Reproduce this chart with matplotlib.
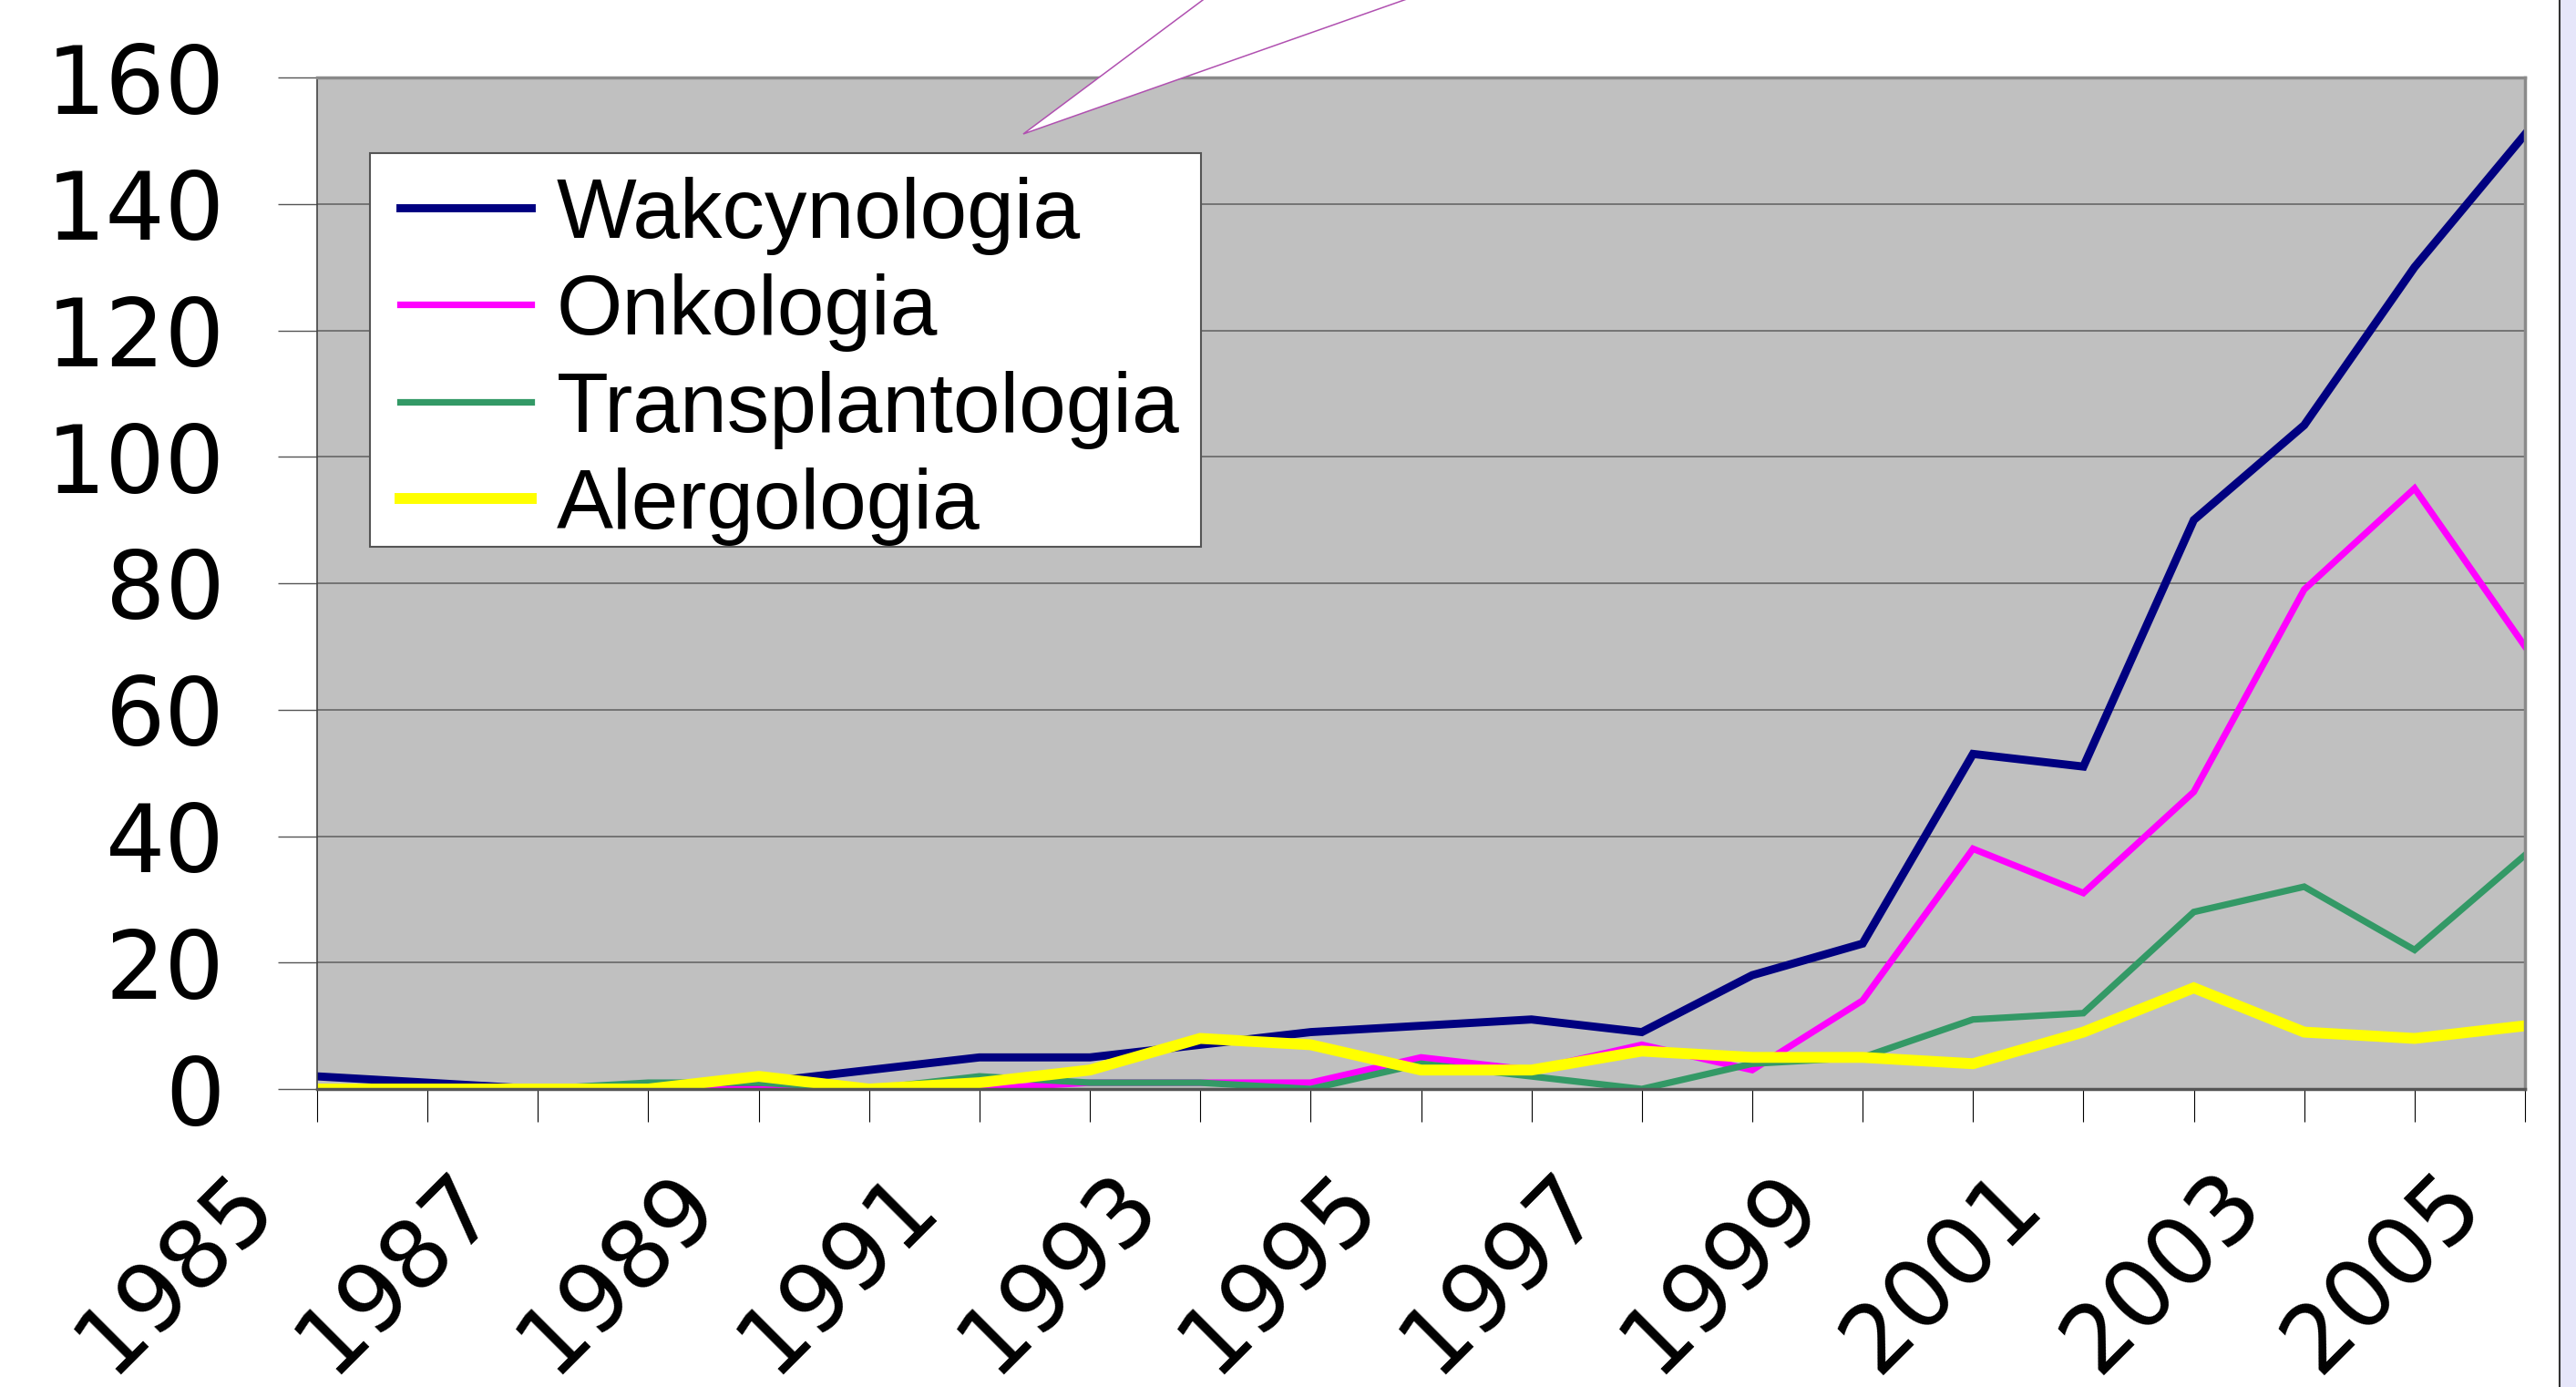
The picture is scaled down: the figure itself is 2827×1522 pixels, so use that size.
import matplotlib
matplotlib.use('Agg')
from matplotlib import pyplot as plt
from matplotlib.patches import Polygon, Rectangle
from matplotlib.transforms import ScaledTranslation

years = list(range(1985, 2006))
wakcynologia = [2, 1, 0, 0, 1, 3, 5, 5, 7, 9, 10, 11, 9, 18, 23, 53, 51, 90, 105, 130, 151]
onkologia = [0, 0, 0, 0, 0, 0, 0, 1, 1, 1, 5, 3, 7, 3, 14, 38, 31, 47, 79, 95, 70]
transplantologia = [0, 0, 0, 1, 1, 0, 2, 1, 1, 0, 4, 2, 0, 4, 5, 11, 12, 28, 32, 22, 37]
alergologia = [0, 0, 0, 0, 2, 0, 1, 3, 8, 7, 3, 3, 6, 5, 5, 4, 9, 16, 9, 8, 10]
names = ['Wakcynologia', 'Onkologia', 'Transplantologia', 'Alergologia']
y_ticks = [0, 20, 40, 60, 80, 100, 120, 140, 160]

W, H = 2827, 1522
fig = plt.figure(figsize=(W / 100, H / 100), dpi=100)
ax = fig.add_axes([348 / W, 1 - 1195 / H, (2771 - 348) / W, (1195 - 85) / H])
ax.set_facecolor('#c0c0c0')

# series, drawn in excel order (later on top)
ax.plot(years, wakcynologia, color='#000080', lw=6.4, label=names[0], solid_joinstyle='miter')
ax.plot(years, onkologia, color='#ff00ff', lw=5.2, label=names[1], solid_joinstyle='miter')
ax.plot(years, transplantologia, color='#339966', lw=5.2, label=names[2], solid_joinstyle='miter')
ax.plot(years, alergologia, color='#ffff00', lw=8.6, label=names[3], solid_joinstyle='miter')

ax.set_xlim(1985, 2005)
ax.set_ylim(0, 160)
ax.set_yticks(y_ticks)
ax.set_xticks(years)
ax.set_xticklabels([str(y) if (y - 1985) % 2 == 0 else '' for y in years])
ax.yaxis.grid(True, color='#666666', lw=1.2)
ax.set_axisbelow(True)

ax.tick_params(axis='x', length=26, width=0.8, color='black', pad=27, labelsize=74)
ax.tick_params(axis='y', length=31, width=1.0, color='#555555', pad=42, labelsize=74)
for lab in ax.get_xticklabels():
    lab.set_rotation(45)
    lab.set_rotation_mode('anchor')
    lab.set_ha('right')
    lab.set_va('top')
    lab.set_transform(lab.get_transform() + ScaledTranslation(-0.98, 0, fig.dpi_scale_trans))

for side in ['top', 'right']:
    ax.spines[side].set_color('#8a8a8a')
    ax.spines[side].set_linewidth(2.5)
ax.spines['left'].set_color('#444444')
ax.spines['left'].set_linewidth(1.2)
ax.spines['bottom'].set_color('#555555')
ax.spines['bottom'].set_linewidth(2.5)

# legend box drawn on its own, entries placed inside it
box = Rectangle((58 / 2423, (1195 - 600) / 1110), (1318 - 406) / 2423, (600 - 168) / 1110,
                transform=ax.transAxes, facecolor='white', edgecolor='#555555', lw=1.5, zorder=4)
ax.add_patch(box)
leg = ax.legend(loc='upper left', bbox_to_anchor=(58 / 2423, (1195 - 161) / 1110), borderaxespad=0,
                prop={'family': 'Liberation Sans', 'size': 67}, frameon=False,
                handlelength=1.55, handletextpad=0.3, labelspacing=0.22, borderpad=0.35)
leg.set_zorder(6)

# callout wedge from top of the slide
tip = (1123, 147)
pts = [tip, (1123 + 197 * 197 / 147, 147 - 197), (1123 + 418 * 197 / 147, 147 - 197)]
fig.add_artist(Polygon([(x / W, 1 - y / H) for x, y in pts], closed=True, facecolor='white',
                       edgecolor='#b050b0', lw=1.1, transform=fig.transFigure, zorder=5))

# slide edge at the right
fig.add_artist(Rectangle((2809 / W, 0), (W - 2809) / W, 1, facecolor='#e6e6fa',
                         edgecolor='none', transform=fig.transFigure, zorder=5))
fig.add_artist(plt.Line2D([2809 / W, 2809 / W], [0, 1], color='#333333', lw=1.5,
                          transform=fig.transFigure, zorder=6))

plt.savefig('out.png', dpi=100)
